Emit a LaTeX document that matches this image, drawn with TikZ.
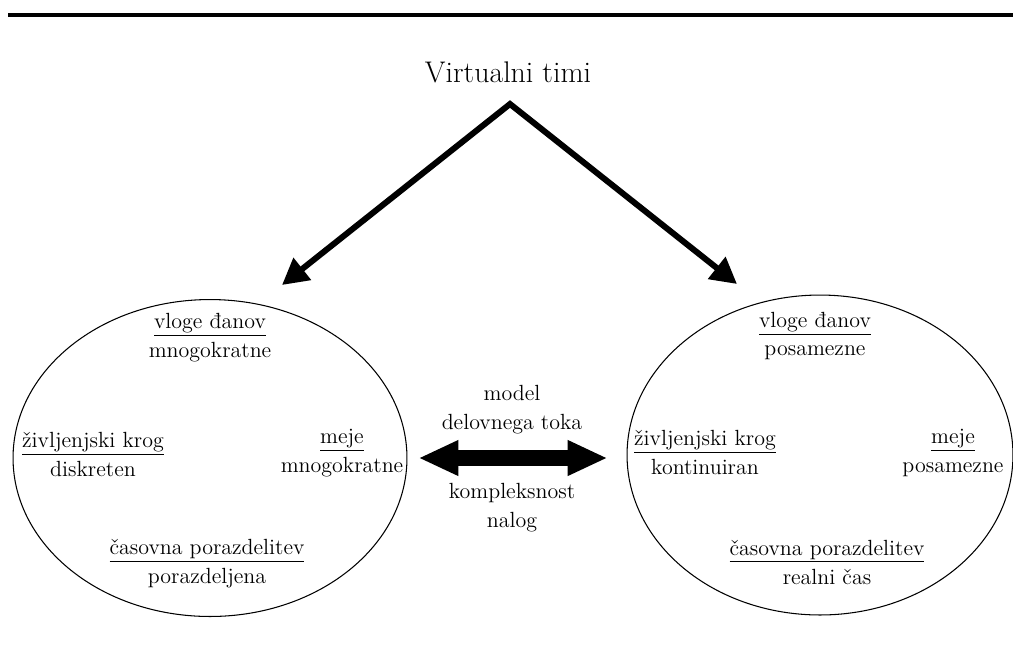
\documentclass[tikz,border=0pt]{standalone}
\usepackage{fontspec}
\usepackage{tikz}
\usepackage{xcolor}
\usetikzlibrary{arrows.meta,shapes.geometric}

\begin{document}
\begin{tikzpicture}[x=0.02cm, y=-0.02cm,
    txt/.style={align=center, inner sep=1pt, font=\fontsize{12.5}{16.5}\selectfont},
    team/.style={draw, ellipse, line width=0.6pt, inner sep=0pt},
    bigarrow/.style={line width=0.12cm, {Triangle[length=0.52cm,width=0.54cm]}-{Triangle[length=0.52cm,width=0.54cm]}},
    dblarrow/.style={line width=0.32cm, {Triangle[length=0.8cm,width=0.66cm]}-{Triangle[length=0.8cm,width=0.66cm]}}]
    \useasboundingbox (0,0) rectangle (1013,657);
    \draw[line width=0.08cm] (8,15) -- (1013,15);
    \node (title) at (508,72) {\fontsize{17}{20}\selectfont Virtualni timi};
    % the two kinds of team
    \node[team, minimum width=7.88cm, minimum height=6.34cm] (left) at (210,458) {};
    \node[team, minimum width=7.72cm, minimum height=6.4cm] (right) at (820,455) {};
    \coordinate (apex) at (510,104);
    \coordinate (tipL) at (282,285);
    \coordinate (tipR) at (737,284);
    \draw[bigarrow] (tipL) -- (apex) -- (tipR);
    % left team
    \node[txt] (lroles) at (210,338) {\underline{vloge đanov}\\mnogokratne};
    \node[txt] (llife) at (93,454) {\underline{življenjski krog}\\diskreten};
    \node[txt] (lbounds) at (342,453) {\underline{meje}\\mnogokratne};
    \node[txt] (ltime) at (207,564) {\underline{časovna porazdelitev}\\porazdeljena};
    % right team
    \node[txt] (rroles) at (815,336) {\underline{vloge đanov}\\posamezne};
    \node[txt] (rlife) at (705,452) {\underline{življenjski krog}\\kontinuiran};
    \node[txt] (rbounds) at (953,453) {\underline{meje}\\posamezne};
    \node[txt] (rtime) at (827,562) {\underline{časovna porazdelitev}\\realni čas};
    % between them
    \draw[dblarrow, shorten <=0.22cm, shorten >=0.38cm] (left.east) -- (left.east -| right.west);
    \node[txt] (flow) at (512,410) {model\\delovnega toka};
    \node[txt] (tasks) at (512,508) {kompleksnost\\nalog};
\end{tikzpicture}
\end{document}
